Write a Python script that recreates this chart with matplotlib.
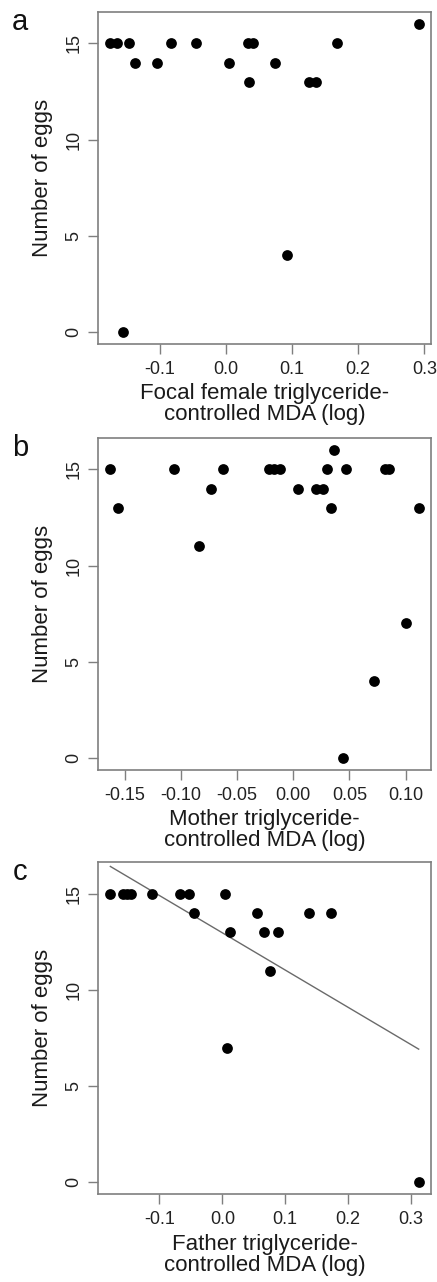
import numpy as np
import matplotlib.pyplot as plt

plt.rcParams['font.family'] = ['Liberation Sans', 'DejaVu Sans']

# a: focal female
x_focal = [-0.1745, -0.1644, -0.1469, -0.0825, -0.0452, 0.0341, 0.0417, 0.1683,
           -0.1368, -0.1041, 0.0045, 0.0744,
           0.0351, 0.1256, 0.1357,
           0.2914, 0.092, -0.156]
y_focal = [15, 15, 15, 15, 15, 15, 15, 15,
           14, 14, 14, 14,
           13, 13, 13,
           16, 4, 0]

# b: mother
x_mother = [-0.1628, -0.1062, -0.0625, -0.0214, -0.0172, -0.0119, 0.0298, 0.0468, 0.0819, 0.0854,
            -0.1562, 0.0337, 0.1116,
            -0.0729, 0.0045, 0.0203, 0.0268,
            0.0366, -0.0839, 0.1006, 0.0714, 0.0441]
y_mother = [15, 15, 15, 15, 15, 15, 15, 15, 15, 15,
            13, 13, 13,
            14, 14, 14, 14,
            16, 11, 7, 4, 0]

# c: father
x_father = [-0.178, -0.158, -0.1515, -0.1452, -0.1118, -0.0668, -0.0535, 0.0048,
            -0.0456, 0.0551, 0.1372, 0.1728,
            0.0117, 0.0657, 0.0885,
            0.0752, 0.0074, 0.3121]
y_father = [15, 15, 15, 15, 15, 15, 15, 15,
            14, 14, 14, 14,
            13, 13, 13,
            11, 7, 0]
father_fit = (12.97, -19.4)  # intercept, slope

panels = [
    ('a', x_focal, y_focal, 'Focal female triglyceride-\ncontrolled MDA (log)',
     [-0.1, 0.0, 0.1, 0.2, 0.3], '%.1f', 0.7317),
    ('b', x_mother, y_mother, 'Mother triglyceride-\ncontrolled MDA (log)',
     [-0.15, -0.10, -0.05, 0.00, 0.05, 0.10], '%.2f', 0.3994),
    ('c', x_father, y_father, 'Father triglyceride-\ncontrolled MDA (log)',
     [-0.1, 0.0, 0.1, 0.2, 0.3], '%.1f', 0.0684),
]

fig = plt.figure(figsize=(4.37, 12.82), dpi=100)
grey = '#7f7f7f'
txt = '#222222'

for letter, xs, ys, xlabel, xticks, fmt, bottom in panels:
    ax = fig.add_axes([0.2243, bottom, 0.762, 0.259])
    xs = np.array(xs)
    ys = np.array(ys)
    ax.scatter(xs, ys, s=60, color='black', zorder=3, linewidths=0)
    # R style 4% padding
    dx = xs.max() - xs.min()
    ax.set_xlim(xs.min() - 0.04 * dx, xs.max() + 0.04 * dx)
    ax.set_ylim(-0.64, 16.64)
    if letter == 'c':
        b0, b1 = father_fit
        xl = np.array([xs.min(), xs.max()])
        ax.plot(xl, b0 + b1 * xl, color='#6a6a6a', lw=1.0)
    ax.set_xticks(xticks)
    ax.set_xticklabels([fmt % t for t in xticks], color=txt, fontsize=13)
    ax.set_yticks([0, 5, 10, 15])
    ax.set_yticklabels(['0', '5', '10', '15'], rotation=90, va='center',
                       color=txt, fontsize=13)
    for sp in ax.spines.values():
        sp.set_color(grey)
        sp.set_linewidth(1.2)
    ax.tick_params(direction='out', length=7, width=1.0, color=grey)
    ax.tick_params(axis='x', pad=5)
    ax.tick_params(axis='y', pad=4)
    ax.set_xlabel(xlabel, fontsize=16, color='#1a1a1a', labelpad=4,
                  linespacing=1.0)
    ax.set_ylabel('Number of eggs', fontsize=16, color='#1a1a1a', labelpad=9)
    ax.text(-0.234, 0.97, letter, transform=ax.transAxes, fontsize=21,
            ha='center', va='center', color='#111111')

fig.savefig('out.png', dpi=100)
